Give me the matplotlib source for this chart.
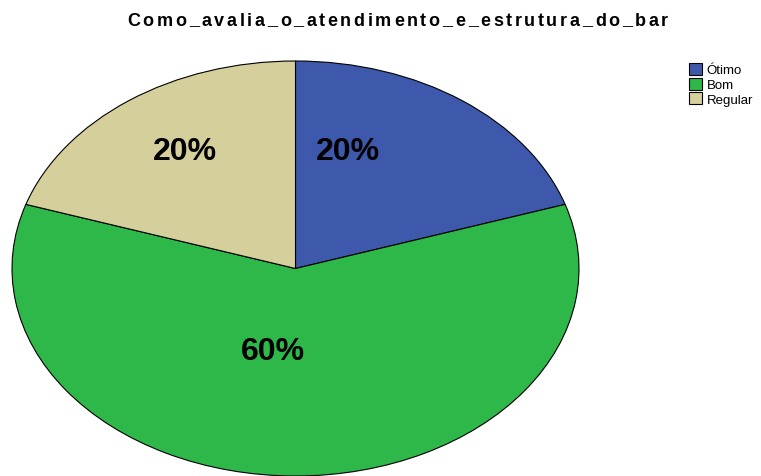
import matplotlib.pyplot as plt
from matplotlib.patches import Patch

labels = ["Ótimo", "Bom", "Regular"]
values = [20, 60, 20]
colors = ["#3e58ac", "#2eb84a", "#d4cf9b"]
title = "Como_avalia_o_atendimento_e_estrutura_do_bar"
# label anchor points (pie units) as placed in the reference
label_pos = [(0.185, 0.566), (-0.08, -0.40), (-0.39, 0.566)]

plt.rcParams['font.family'] = ['Liberation Sans', 'DejaVu Sans']

W, H = 761, 477
fig = plt.figure(figsize=(W / 100, H / 100), dpi=100)
ax = fig.add_axes([12 / W, 0, 567 / W, 415 / H])

wedges, texts, autotexts = ax.pie(
    values, colors=colors, startangle=90, counterclock=False,
    autopct='%1.0f%%', radius=1,
    wedgeprops=dict(edgecolor='black', linewidth=0.8),
    textprops=dict(fontsize=23, fontweight='bold', color='black'))
for t, p in zip(autotexts, label_pos):
    t.set_position(p)
ax.set_aspect('auto')
ax.set_xlim(-1, 1)
ax.set_ylim(-1, 1)
ax.axis('off')

# title with slight letter spacing, like the original
renderer = fig.canvas.get_renderer()
chars = []
widths = []
for ch in title:
    t = fig.text(0, 1 - 21 / H, ch, ha='left', va='center', fontsize=13, fontweight='bold')
    chars.append(t)
    widths.append(t.get_window_extent(renderer).width)
left, right = 127, 668
gap = (right - left - sum(widths)) / (len(title) - 1)
x = left
for t, w in zip(chars, widths):
    t.set_x(x / W)
    x += w + gap

handles = [Patch(facecolor=c, edgecolor='black', linewidth=0.8) for c in colors]
fig.legend(handles, labels, loc='upper left', bbox_to_anchor=(689 / W, 1 - 64 / H),
           frameon=False, fontsize=9.5, handlelength=1.0, handleheight=1.0,
           handletextpad=0.35, labelspacing=0.1, borderaxespad=0, borderpad=0)

fig.savefig("out.png", dpi=100)
